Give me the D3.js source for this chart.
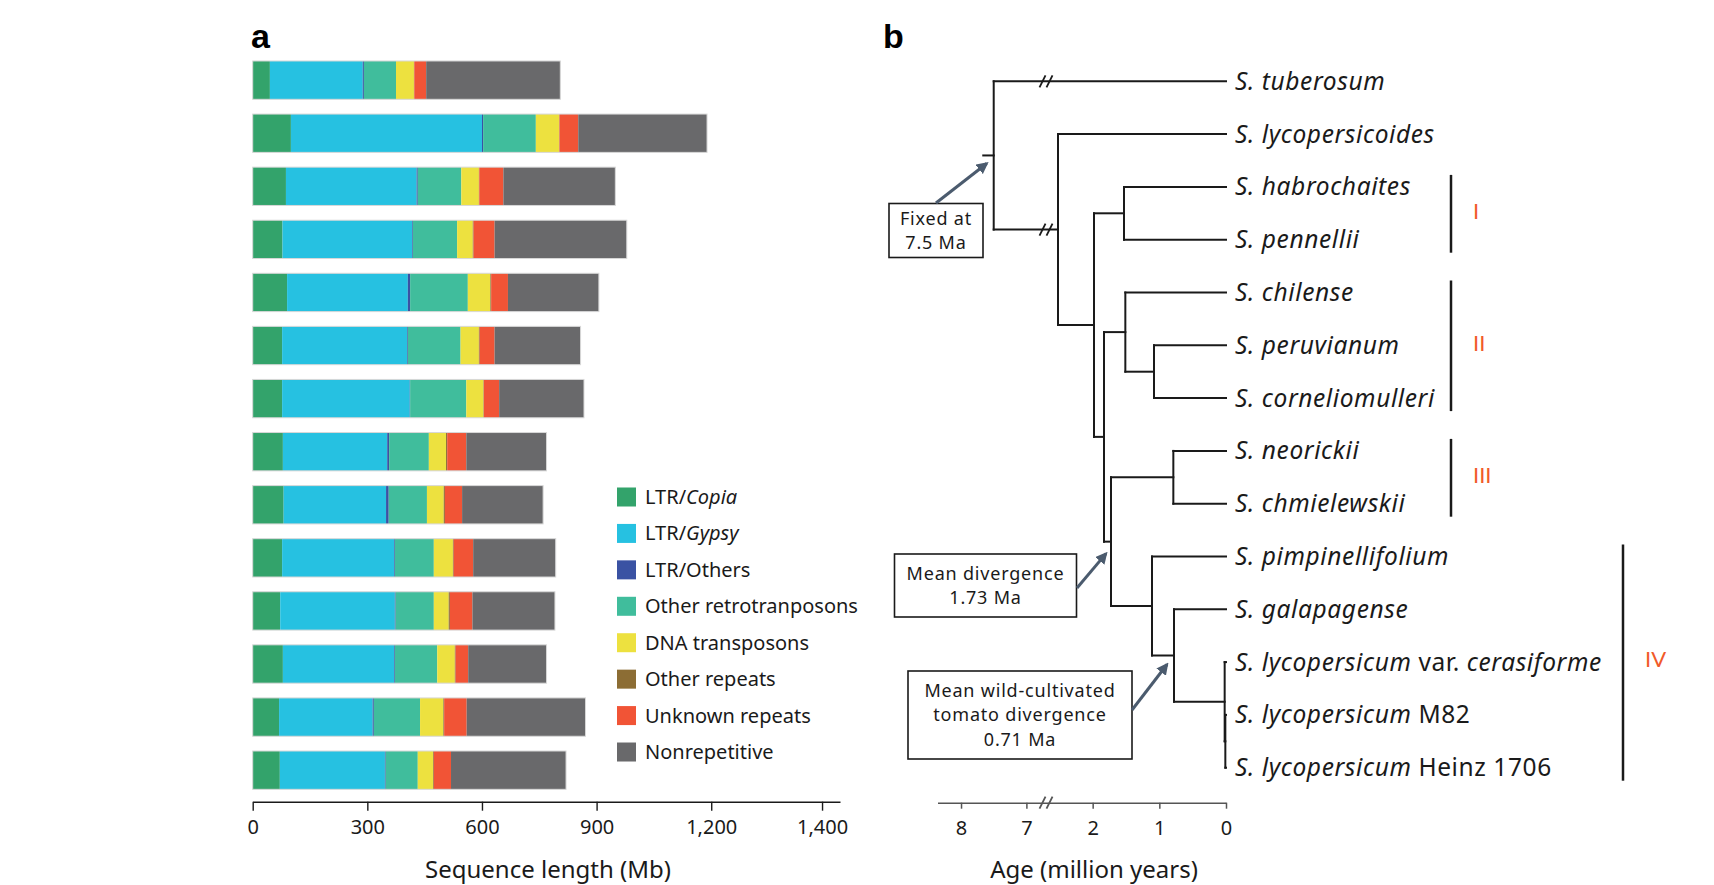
<!DOCTYPE html>
<html>
<head>
    <meta charset="utf-8">
    <title>Repeat content and phylogeny</title>
    <script type="text/javascript" src="https://d3js.org/d3.v7.min.js"></script>
    <style>
        body { margin: 0; background: white; }
        .canvas { font-family: "Noto Sans", Lato, sans-serif; background-color: white; }
    </style>
</head>
<body>
    <svg class="canvas" width="1714" height="885"></svg>
    <script type="text/javascript">
        // ---- data: panel a (Mb per repeat class, one value per genome) ----
        var genomes = ["tub", "lyc", "hab", "pen", "chi", "per", "cor", "neo", "chm", "pim", "gal", "cer", "m82", "hei"]
        var repeatTypes = ["LTR/*Copia*", "LTR/*Gypsy*", "LTR/Others", "Other retrotranposons",
            "DNA transposons", "Other repeats", "Unknown repeats", "Nonrepetitive"]
        var repeatColors = ["#33a36b", "#26c1e1", "#3a52a3", "#40bd9c", "#ede13f", "#8c6d34", "#f15436", "#69696b"]

        var copia      = [45, 100, 87, 78, 90, 77, 77, 79, 81, 77, 72, 79, 69, 71]
        var gypsy      = [243, 500, 342, 339, 316, 327, 334, 273, 268, 293, 300, 291, 245, 275]
        var ltrOthers  = [3, 3, 3, 2, 6, 2, 1, 5, 7, 2, 2, 2, 3, 2]
        var otherRetro = [84, 138, 114, 116, 151, 138, 147, 104, 100, 102, 100, 111, 121, 84]
        var dnaTrans   = [47, 61, 46, 41, 59, 48, 45, 45, 44, 50, 39, 46, 61, 40]
        var otherRep   = [1, 1, 1, 2, 2, 2, 1, 3, 3, 2, 3, 2, 2, 2]
        var unknownRep = [31, 49, 63, 55, 44, 39, 40, 50, 45, 51, 59, 33, 59, 45]
        var nonRep     = [351, 337, 293, 346, 238, 225, 222, 210, 212, 216, 216, 205, 311, 301]
        var seriesA = [copia, gypsy, ltrOthers, otherRetro, dnaTrans, otherRep, unknownRep, nonRep]

        var tickValsA = [0, 300, 600, 900, 1200, 1490]
        var tickLabelsA = ["0", "300", "600", "900", "1,200", "1,400"]

        // ---- data: panel b (tree) ----
        var tipLabels = ["*S. tuberosum*", "*S. lycopersicoides*", "*S. habrochaites*", "*S. pennellii*",
            "*S. chilense*", "*S. peruvianum*", "*S. corneliomulleri*", "*S. neorickii*", "*S. chmielewskii*",
            "*S. pimpinellifolium*", "*S. galapagense*", "*S. lycopersicum* var. *cerasiforme*",
            "*S. lycopersicum* M82", "*S. lycopersicum* Heinz 1706"]
        var nodeIds   = ["root", "A", "B", "C", "D", "E", "F", "H", "G", "I", "J", "K", "L"]
        var nodeAges  = [7.5, 2.52, 1.98, 1.53, 1.83, 1.51, 1.08, 1.725, 0.79, 1.11, 0.78, 0.02, 0.01]
        var nodeKids  = [["tub", "A"], ["lyc", "B"], ["C", "D"], ["hab", "pen"], ["E", "H"], ["chi", "F"],
            ["per", "cor"], ["G", "I"], ["neo", "chm"], ["pim", "J"], ["gal", "K"], ["cer", "L"], ["m82", "hei"]]
        var tickValsB = [8, 7, 2, 1, 0]

        var cladeNames = ["I", "II", "III", "IV"]
        var cladeFrom = ["hab", "chi", "neo", "pim"]
        var cladeTo = ["pen", "cor", "chm", "hei"]

        var ink = "#1a1a1a", arrowCol = "#4b5b6e", cladeCol = "#f15a29"
        var svg = d3.select('.canvas')

        // writes "*italic* plain" strings as tspans
        function richText(sel, str) {
            str.split("*").forEach(function (part, i) {
                if (part === "") return
                sel.append("tspan").attr("font-style", i % 2 ? "italic" : "normal").text(part)
            })
        }

        // ================= panel a =================
        var xA = d3.scaleLinear().domain([0, 1537]).range([252.7, 840])
        var yA = d3.scaleBand().domain(genomes).range([53.6, 796.7]).paddingInner(0.278).paddingOuter(0.139)

        var table = genomes.map(function (g, i) {
            var row = { genome: g }
            repeatTypes.forEach(function (k, j) { row[k] = seriesA[j][i] })
            return row
        })
        var layers = d3.stack().keys(repeatTypes)(table)

        svg.append("g").selectAll("g")
            .data(layers).enter().append("g")
            .attr("fill", function (d, i) { return repeatColors[i] })
            .selectAll("rect")
            .data(function (d) { return d }).enter().append("rect")
            .attr("x", function (d) { return xA(d[0]) })
            .attr("width", function (d) { return xA(d[1]) - xA(d[0]) })
            .attr("y", function (d) { return yA(d.data.genome) })
            .attr("height", yA.bandwidth())

        svg.append("g").selectAll("rect")
            .data(table).enter().append("rect")
            .attr("x", xA(0))
            .attr("width", function (d) { return xA(d3.sum(repeatTypes, function (k) { return d[k] })) - xA(0) })
            .attr("y", function (d) { return yA(d.genome) })
            .attr("height", yA.bandwidth())
            .attr("fill", "none").attr("stroke", "#d8d8d8").attr("stroke-width", 1)

        var axA = svg.append("g").attr("transform", "translate(0,801.7)")
            .call(d3.axisBottom(xA).tickValues(tickValsA)
                .tickFormat(function (d, i) { return tickLabelsA[i] })
                .tickSize(9).tickSizeOuter(0).tickPadding(9))
        axA.selectAll("path,line").attr("stroke", ink).attr("stroke-width", 1.4)
        axA.selectAll("text").attr("font-size", 20).attr("fill", ink).attr("font-family", "Noto Sans")

        svg.append("text").attr("x", 548).attr("y", 878).attr("text-anchor", "middle")
            .attr("font-size", 24).attr("fill", ink).text("Sequence length (Mb)")

        // legend
        var leg = svg.append("g").selectAll("g")
            .data(repeatTypes).enter().append("g")
            .attr("transform", function (d, i) { return "translate(617," + (497 + i * 36.43) + ")" })
        leg.append("rect").attr("x", 0).attr("y", -9.5).attr("width", 19).attr("height", 19)
            .attr("fill", function (d, i) { return repeatColors[i] })
        leg.append("text").attr("x", 28).attr("dy", "0.35em").attr("font-size", 20).attr("fill", ink)
            .each(function (d) { richText(d3.select(this), d) })

        svg.append("text").attr("x", 251).attr("y", 48).attr("font-family", "Liberation Sans")
            .attr("font-weight", "bold").attr("font-size", 34).attr("fill", "black").text("a")

        // ================= panel b =================
        var xT = d3.scaleLinear().domain([8.36, 6.7, 2.7, 0]).range([937.5, 1046, 1046, 1226])
        var yT = d3.scalePoint().domain(genomes).range([81.3, 767.7])

        var kidsOf = {}, ageOf = {}
        nodeIds.forEach(function (id, i) { kidsOf[id] = nodeKids[i]; ageOf[id] = nodeAges[i] })
        var pos = {}
        function place(id) {
            if (!kidsOf[id]) { pos[id] = { x: xT(0), y: yT(id) }; return pos[id] }
            var ys = kidsOf[id].map(function (k) { return place(k).y })
            pos[id] = { x: xT(ageOf[id]), y: d3.mean(ys) }
            return pos[id]
        }
        place("root")

        var segs = []
        nodeIds.forEach(function (id) {
            var p = pos[id], kids = kidsOf[id]
            segs.push([p.x, pos[kids[0]].y, p.x, pos[kids[kids.length - 1]].y])
            kids.forEach(function (k) { segs.push([p.x, pos[k].y, pos[k].x, pos[k].y]) })
        })
        segs.push([xT(7.66), pos.root.y, pos.root.x, pos.root.y])

        svg.append("g").selectAll("line")
            .data(segs).enter().append("line")
            .attr("x1", function (d) { return d[0] }).attr("y1", function (d) { return d[1] })
            .attr("x2", function (d) { return d[2] }).attr("y2", function (d) { return d[3] })
            .attr("stroke", ink).attr("stroke-width", 2).attr("stroke-linecap", "square")

        function breakMark(x, y, col) {
            [-3.5, 3.5].forEach(function (o) {
                svg.append("line").attr("x1", x + o - 3).attr("y1", y + 6).attr("x2", x + o + 3).attr("y2", y - 6)
                    .attr("stroke", col).attr("stroke-width", 1.8)
            })
        }
        breakMark(xT(2.7), pos.tub.y, ink)
        breakMark(xT(2.7), pos.A.y, ink)

        svg.append("g").selectAll("text")
            .data(genomes).enter().append("text")
            .attr("x", xT(0) + 9).attr("y", function (d) { return yT(d) }).attr("dy", "0.35em")
            .attr("font-size", 24.5).attr("letter-spacing", 0.6).attr("fill", ink)
            .each(function (d, i) { richText(d3.select(this), tipLabels[i]) })

        // clade bars
        var cladeX = [1451, 1451, 1451, 1623]
        cladeNames.forEach(function (c, i) {
            var y0 = yT(cladeFrom[i]) - 12, y1 = yT(cladeTo[i]) + 13
            svg.append("line").attr("x1", cladeX[i]).attr("x2", cladeX[i]).attr("y1", y0).attr("y2", y1)
                .attr("stroke", ink).attr("stroke-width", 2.5)
            svg.append("text").attr("x", cladeX[i] + 22).attr("y", (y0 + y1) / 2 - 3).attr("dy", "0.35em")
                .attr("font-family", "Lato").attr("font-size", 22).attr("fill", cladeCol).text(c)
        })

        // annotation boxes and arrows
        svg.append("defs").append("marker").attr("id", "head")
            .attr("viewBox", "0 0 10 10").attr("refX", 8).attr("refY", 5)
            .attr("markerWidth", 4).attr("markerHeight", 4).attr("orient", "auto")
            .append("path").attr("d", "M0,0L10,5L0,10z").attr("fill", arrowCol)

        function note(x, y, w, h, lines, from, to) {
            svg.append("rect").attr("x", x).attr("y", y).attr("width", w).attr("height", h)
                .attr("fill", "white").attr("stroke", ink).attr("stroke-width", 1.6)
            lines.forEach(function (t, i) {
                svg.append("text").attr("x", x + w / 2).attr("y", y + h / 2 + (i - (lines.length - 1) / 2) * 24.5)
                    .attr("dy", "0.35em").attr("text-anchor", "middle").attr("font-size", 18)
                    .attr("letter-spacing", 0.8).attr("fill", ink).text(t)
            })
            svg.append("line").attr("x1", from[0]).attr("y1", from[1]).attr("x2", to[0]).attr("y2", to[1])
                .attr("stroke", arrowCol).attr("stroke-width", 3).attr("marker-end", "url(#head)")
        }
        note(889, 203.5, 94, 54, ["Fixed at", "7.5 Ma"], [936, 203], [pos.root.x - 7, pos.root.y + 8])
        note(894.5, 554, 182, 63, ["Mean divergence", "1.73 Ma"], [1077, 588], [pos.H.x - 5, pos.H.y + 12])
        note(908, 671, 224, 88, ["Mean wild-cultivated", "tomato divergence", "0.71 Ma"], [1132, 710], [pos.J.x - 7, pos.J.y + 9])

        // age axis
        var axB = svg.append("g").attr("transform", "translate(0,802.7)")
            .call(d3.axisBottom(xT).tickValues(tickValsB).tickFormat(d3.format("d"))
                .tickSize(6).tickSizeOuter(0).tickPadding(12))
        axB.selectAll("path,line").attr("stroke", "#555").attr("stroke-width", 1.5)
        axB.selectAll("text").attr("font-size", 20).attr("fill", ink).attr("font-family", "Noto Sans")
        breakMark(xT(2.7), 802.7, "#555")

        svg.append("text").attr("x", 1094).attr("y", 878).attr("text-anchor", "middle")
            .attr("font-size", 24).attr("fill", ink).text("Age (million years)")

        svg.append("text").attr("x", 883).attr("y", 48).attr("font-family", "Liberation Sans")
            .attr("font-weight", "bold").attr("font-size", 34).attr("fill", "black").text("b")
    </script>
</body>
</html>
